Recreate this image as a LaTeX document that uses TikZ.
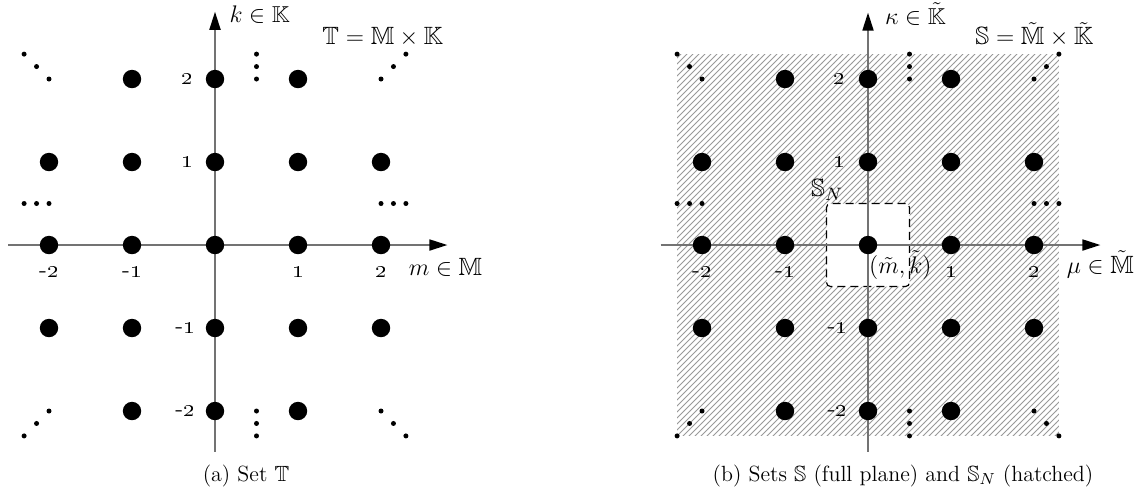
\documentclass[tikz,border=0pt]{standalone}
\usepackage{amssymb}
\usetikzlibrary{arrows.meta,patterns}
\begin{document}
\begin{tikzpicture}[x=0.5pt,y=-0.5pt,
  big/.style={circle,fill=black,inner sep=0pt,minimum size=9.2pt},
  small/.style={circle,fill=black,inner sep=0pt,minimum size=2.5pt},
  axisline/.style={draw=black!55,line width=0.9pt,-{Triangle[length=9pt,width=5.5pt,color=black]}},
  ticklab/.style={inner sep=0pt,font=\fontsize{12}{14}\selectfont},
  lab/.style={inner sep=0pt,anchor=base west,font=\fontsize{12.5}{15}\selectfont},
  toplab/.style={inner sep=0pt,anchor=base west,font=\fontsize{11.5}{14}\selectfont},
  caption/.style={inner sep=0pt,anchor=base,font=\fontsize{11}{13}\selectfont},
  hatch/.style={pattern=north east lines,pattern color=black!40},
  snbox/.style={draw=black,fill=white,dashed,dash pattern=on 4pt off 2.5pt,line width=0.6pt,rounded corners=2pt}]
\useasboundingbox (0,0) rectangle (1143,495);

% ---------- panel (a) ----------
\begin{scope}[shift={(215,245)},x=41.5pt,y=41.5pt]
  \coordinate (aHl) at (-2.49,0); \coordinate (aHr) at (2.8,0);
  \coordinate (aVb) at (0,-2.49); \coordinate (aVt) at (0,2.81);
  \draw[axisline] (aHl) -- (aHr);
  \draw[axisline] (aVb) -- (aVt);
  \foreach \i in {-2,...,2}{\foreach \j in {-1,0,1}{\node[big] (aD\i\j) at (\i,\j) {};}}
  \foreach \i in {-1,0,1}{\node[big] (aT\i) at (\i,2) {}; \node[big] (aB\i) at (\i,-2) {};}
  \foreach \d [count=\c] in {0,0.15,0.3}{
    \node[small] (aTL\c) at (-2-\d,2+\d) {};
    \node[small] (aTR\c) at (2+\d,2+\d) {};
    \node[small] (aBL\c) at (-2-\d,-2-\d) {};
    \node[small] (aBR\c) at (2+\d,-2-\d) {};
    \node[small] (aVT\c) at (0.5,2+\d) {};
    \node[small] (aVB\c) at (0.5,-2-\d) {};
    \node[small] (aHL\c) at (-2-\d,0.5) {};
    \node[small] (aHR\c) at (2+\d,0.5) {};
  }
  \node[ticklab] (ay2) at (-0.33,2) {\oldstylenums{2}};
  \node[ticklab] (ay1) at (-0.33,1) {\oldstylenums{1}};
  \node[ticklab] (aym1) at (-0.36,-1) {-\oldstylenums{1}};
  \node[ticklab] (aym2) at (-0.36,-2) {-\oldstylenums{2}};
  \node[ticklab] (axm2) at (-2,-0.33) {-\oldstylenums{2}};
  \node[ticklab] (axm1) at (-1,-0.33) {-\oldstylenums{1}};
  \node[ticklab] (ax1) at (1,-0.33) {\oldstylenums{1}};
  \node[ticklab] (ax2) at (2,-0.33) {\oldstylenums{2}};
  \node[toplab] (aklab) at (0.17,2.68) {$k\in\mathbb{K}$};
  \node[lab] (aTlab) at (1.29,2.41) {$\mathbb{T}=\mathbb{M}\times\mathbb{K}$};
  \node[lab] (amlab) at (2.33,-0.37) {$m\in\mathbb{M}$};
\end{scope}

% ---------- panel (b) ----------
\begin{scope}[shift={(868,245)},x=41.5pt,y=41.5pt]
  \path[hatch] (-2.3,-2.3) rectangle (2.3,2.3);
  \node[snbox,minimum width=41.5pt,minimum height=41.5pt,inner sep=0pt] (bSN) at (0,0) {};
  \coordinate (bHl) at (-2.5,0); \coordinate (bHr) at (2.8,0);
  \coordinate (bVb) at (0,-2.49); \coordinate (bVt) at (0,2.8);
  \draw[axisline] (bHl) -- (bHr);
  \draw[axisline] (bVb) -- (bVt);
  \foreach \i in {-2,...,2}{\foreach \j in {-1,0,1}{\node[big] (bD\i\j) at (\i,\j) {};}}
  \foreach \i in {-1,0,1}{\node[big] (bT\i) at (\i,2) {}; \node[big] (bB\i) at (\i,-2) {};}
  \foreach \d [count=\c] in {0,0.15,0.3}{
    \node[small] (bTL\c) at (-2-\d,2+\d) {};
    \node[small] (bTR\c) at (2+\d,2+\d) {};
    \node[small] (bBL\c) at (-2-\d,-2-\d) {};
    \node[small] (bBR\c) at (2+\d,-2-\d) {};
    \node[small] (bVT\c) at (0.5,2+\d) {};
    \node[small] (bVB\c) at (0.5,-2-\d) {};
    \node[small] (bHL\c) at (-2-\d,0.5) {};
    \node[small] (bHR\c) at (2+\d,0.5) {};
  }
  \node[ticklab] (by2) at (-0.34,2) {\oldstylenums{2}};
  \node[ticklab] (by1) at (-0.34,1) {\oldstylenums{1}};
  \node[ticklab] (bym1) at (-0.37,-1) {-\oldstylenums{1}};
  \node[ticklab] (bym2) at (-0.37,-2) {-\oldstylenums{2}};
  \node[ticklab] (bxm2) at (-2,-0.33) {-\oldstylenums{2}};
  \node[ticklab] (bxm1) at (-1,-0.33) {-\oldstylenums{1}};
  \node[ticklab] (bx1) at (1,-0.33) {\oldstylenums{1}};
  \node[ticklab] (bx2) at (2,-0.33) {\oldstylenums{2}};
  \node[toplab] (bklab) at (0.2,2.66) {$\kappa\in\tilde{\mathbb{K}}$};
  \node[lab] (bSlab) at (1.29,2.41) {$\mathbb{S}=\tilde{\mathbb{M}}\times\tilde{\mathbb{K}}$};
  \node[lab] (bmlab) at (2.39,-0.34) {$\mu\in\tilde{\mathbb{M}}$};
  \node[lab] (bSNlab) at (-0.69,0.59) {$\mathbb{S}_N$};
  \node[lab] (bmk) at (0.01,-0.34) {$(\tilde{m},\tilde{k})$};
\end{scope}

\node[caption] (capa) at (246,481) {(a) Set $\mathbb{T}$};
\node[caption] (capb) at (903,481) {(b) Sets $\mathbb{S}$ (full plane) and $\mathbb{S}_N$ (hatched)};
\end{tikzpicture}
\end{document}
